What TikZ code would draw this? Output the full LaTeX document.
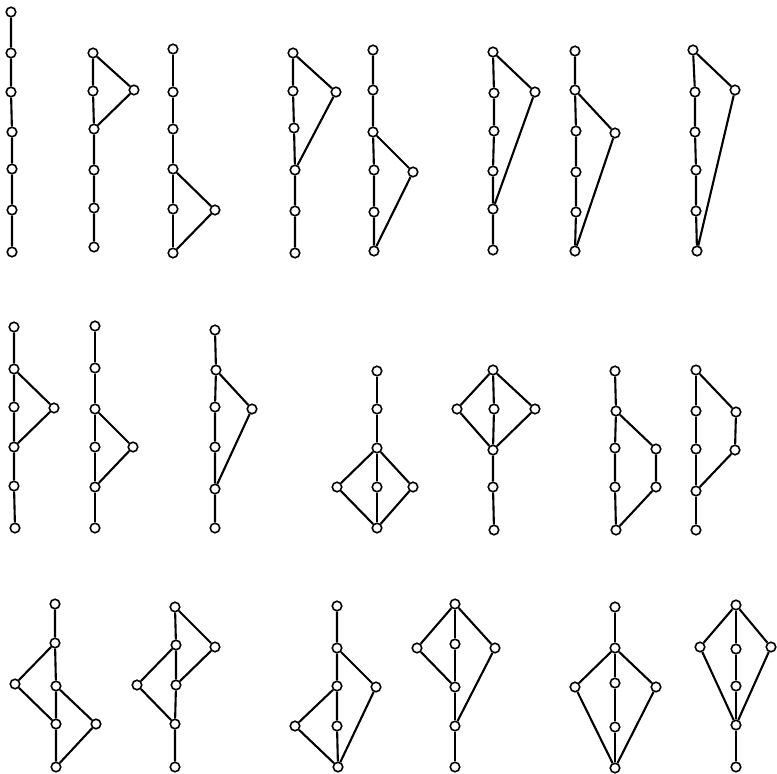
\documentclass[tikz,border=0pt]{standalone}
\usepackage{tikz}
\usetikzlibrary{positioning}

\begin{document}
\begin{tikzpicture}[
  x=1pt, y=-1pt,
  el/.style={
    circle,
    draw=black,
    line width=1.6pt,
    fill=white,
    inner sep=0pt,
    minimum size=9.5pt
  },
  rel/.style={line width=2.1pt}
]
\useasboundingbox (0,0) rectangle (777,774);

% row 1
\node[el] (a1) at (11,12) {};
\node[el] (a2) at (11,53) {};
\node[el] (a3) at (11,92) {};
\node[el] (a4) at (12,132) {};
\node[el] (a5) at (12,169) {};
\node[el] (a6) at (12,210) {};
\node[el] (a7) at (12,252) {};

\node[el] (b1) at (93,53) {};
\node[el] (b2) at (93,91) {};
\node[el] (b3) at (94,129) {};
\node[el] (b4) at (94,170) {};
\node[el] (b5) at (94,208) {};
\node[el] (b6) at (94,247) {};
\node[el] (bs) at (134,90) {};

\node[el] (c1) at (173,49) {};
\node[el] (c2) at (173,92) {};
\node[el] (c3) at (173,129) {};
\node[el] (c4) at (173,169) {};
\node[el] (c5) at (173,209) {};
\node[el] (c6) at (173,253) {};
\node[el] (cs) at (215,210) {};

\node[el] (d1) at (293,53) {};
\node[el] (d2) at (293,91) {};
\node[el] (d3) at (294,128) {};
\node[el] (d4) at (295,170) {};
\node[el] (d5) at (295,211) {};
\node[el] (d6) at (295,253) {};
\node[el] (ds) at (336,92) {};

\node[el] (e1) at (373,50) {};
\node[el] (e2) at (373,90) {};
\node[el] (e3) at (373,132) {};
\node[el] (e4) at (374,170) {};
\node[el] (e5) at (374,212) {};
\node[el] (e6) at (374,251) {};
\node[el] (es) at (413,172) {};

\node[el] (f1) at (493,52) {};
\node[el] (f2) at (494,93) {};
\node[el] (f3) at (494,131) {};
\node[el] (f4) at (493,171) {};
\node[el] (f5) at (493,209) {};
\node[el] (f6) at (493,250) {};
\node[el] (fs) at (535,92) {};

\node[el] (g1) at (575,51) {};
\node[el] (g2) at (575,90) {};
\node[el] (g3) at (576,131) {};
\node[el] (g4) at (576,172) {};
\node[el] (g5) at (576,212) {};
\node[el] (g6) at (575,251) {};
\node[el] (gs) at (615,133) {};

\node[el] (h1) at (693,50) {};
\node[el] (h2) at (695,92) {};
\node[el] (h3) at (695,132) {};
\node[el] (h4) at (696,170) {};
\node[el] (h5) at (696,211) {};
\node[el] (h6) at (697,251) {};
\node[el] (hs) at (735,90) {};

% row 2
\node[el] (i1) at (14,327) {};
\node[el] (i2) at (14,369) {};
\node[el] (i3) at (14,407) {};
\node[el] (i4) at (14,447) {};
\node[el] (i5) at (14,486) {};
\node[el] (i6) at (15,528) {};
\node[el] (is) at (54,408) {};

\node[el] (j1) at (95,326) {};
\node[el] (j2) at (95,368) {};
\node[el] (j3) at (95,409) {};
\node[el] (j4) at (95,447) {};
\node[el] (j5) at (95,487) {};
\node[el] (j6) at (95,528) {};
\node[el] (js) at (133,447) {};

\node[el] (k1) at (215,330) {};
\node[el] (k2) at (216,370) {};
\node[el] (k3) at (215,407) {};
\node[el] (k4) at (215,447) {};
\node[el] (k5) at (215,489) {};
\node[el] (k6) at (215,528) {};
\node[el] (ks) at (252,409) {};

\node[el] (l1) at (377,371) {};
\node[el] (l2) at (377,409) {};
\node[el] (l3) at (377,448) {};
\node[el] (l4) at (377,487) {};
\node[el] (l5) at (377,528) {};
\node[el] (ll) at (337,487) {};
\node[el] (lr) at (413,487) {};

\node[el] (m1) at (493,370) {};
\node[el] (m2) at (494,409) {};
\node[el] (m3) at (493,450) {};
\node[el] (m4) at (493,487) {};
\node[el] (m5) at (494,530) {};
\node[el] (ml) at (457,409) {};
\node[el] (mr) at (535,409) {};

\node[el] (n1) at (615,371) {};
\node[el] (n2) at (616,411) {};
\node[el] (n3) at (615,448) {};
\node[el] (n4) at (615,487) {};
\node[el] (n5) at (616,530) {};
\node[el] (nr1) at (656,449) {};
\node[el] (nr2) at (656,487) {};

\node[el] (o1) at (696,370) {};
\node[el] (o2) at (696,411) {};
\node[el] (o3) at (696,449) {};
\node[el] (o4) at (696,491) {};
\node[el] (o5) at (696,530) {};
\node[el] (or1) at (736,412) {};
\node[el] (or2) at (735,450) {};

% row 3
\node[el] (p1) at (55,604) {};
\node[el] (p2) at (55,643) {};
\node[el] (p3) at (56,686) {};
\node[el] (p4) at (56,724) {};
\node[el] (p5) at (56,767) {};
\node[el] (pl) at (15,684) {};
\node[el] (pr) at (96,724) {};

\node[el] (q1) at (175,607) {};
\node[el] (q2) at (176,645) {};
\node[el] (q3) at (176,685) {};
\node[el] (q4) at (175,724) {};
\node[el] (q5) at (175,767) {};
\node[el] (ql) at (137,685) {};
\node[el] (qr) at (215,647) {};

\node[el] (r1) at (337,606) {};
\node[el] (r2) at (337,648) {};
\node[el] (r3) at (337,686) {};
\node[el] (r4) at (337,726) {};
\node[el] (r5) at (338,767) {};
\node[el] (rl) at (295,726) {};
\node[el] (rr) at (376,687) {};

\node[el] (s1) at (455,604) {};
\node[el] (s2) at (455,644) {};
\node[el] (s3) at (455,687) {};
\node[el] (s4) at (455,726) {};
\node[el] (s5) at (455,767) {};
\node[el] (sl) at (417,648) {};
\node[el] (sr) at (495,648) {};

\node[el] (t1) at (615,607) {};
\node[el] (t2) at (615,648) {};
\node[el] (t3) at (615,683) {};
\node[el] (t4) at (615,727) {};
\node[el] (t5) at (615,768) {};
\node[el] (tl) at (575,687) {};
\node[el] (tr) at (656,687) {};

\node[el] (u1) at (736,605) {};
\node[el] (u2) at (736,649) {};
\node[el] (u3) at (736,686) {};
\node[el] (u4) at (736,725) {};
\node[el] (u5) at (736,767) {};
\node[el] (ul) at (700,647) {};
\node[el] (ur) at (771,647) {};

% edges
\draw[rel] (a1) -- (a2) -- (a3) -- (a4) -- (a5) -- (a6) -- (a7);
\draw[rel] (b1) -- (b2) -- (b3) -- (b4) -- (b5) -- (b6);
\draw[rel] (b1) -- (bs) -- (b3);
\draw[rel] (c1) -- (c2) -- (c3) -- (c4) -- (c5) -- (c6);
\draw[rel] (c4) -- (cs) -- (c6);
\draw[rel] (d1) -- (d2) -- (d3) -- (d4) -- (d5) -- (d6);
\draw[rel] (d1) -- (ds) -- (d4);
\draw[rel] (e1) -- (e2) -- (e3) -- (e4) -- (e5) -- (e6);
\draw[rel] (e3) -- (es) -- (e6);
\draw[rel] (f1) -- (f2) -- (f3) -- (f4) -- (f5) -- (f6);
\draw[rel] (f1) -- (fs) -- (f5);
\draw[rel] (g1) -- (g2) -- (g3) -- (g4) -- (g5) -- (g6);
\draw[rel] (g2) -- (gs) -- (g6);
\draw[rel] (h1) -- (h2) -- (h3) -- (h4) -- (h5) -- (h6);
\draw[rel] (h1) -- (hs) -- (h6);

\draw[rel] (i1) -- (i2) -- (i3) -- (i4) -- (i5) -- (i6);
\draw[rel] (i2) -- (is) -- (i4);
\draw[rel] (j1) -- (j2) -- (j3) -- (j4) -- (j5) -- (j6);
\draw[rel] (j3) -- (js) -- (j5);
\draw[rel] (k1) -- (k2) -- (k3) -- (k4) -- (k5) -- (k6);
\draw[rel] (k2) -- (ks) -- (k5);
\draw[rel] (l1) -- (l2) -- (l3) -- (l4) -- (l5);
\draw[rel] (l3) -- (ll) -- (l5);
\draw[rel] (l3) -- (lr) -- (l5);
\draw[rel] (m1) -- (m2) -- (m3) -- (m4) -- (m5);
\draw[rel] (m1) -- (ml) -- (m3);
\draw[rel] (m1) -- (mr) -- (m3);
\draw[rel] (n1) -- (n2) -- (n3) -- (n4) -- (n5);
\draw[rel] (n2) -- (nr1) -- (nr2) -- (n5);
\draw[rel] (o1) -- (o2) -- (o3) -- (o4) -- (o5);
\draw[rel] (o1) -- (or1) -- (or2) -- (o4);

\draw[rel] (p1) -- (p2) -- (p3) -- (p4) -- (p5);
\draw[rel] (p2) -- (pl) -- (p4);
\draw[rel] (p3) -- (pr) -- (p5);
\draw[rel] (q1) -- (q2) -- (q3) -- (q4) -- (q5);
\draw[rel] (q1) -- (qr) -- (q3);
\draw[rel] (q2) -- (ql) -- (q4);
\draw[rel] (r1) -- (r2) -- (r3) -- (r4) -- (r5);
\draw[rel] (r2) -- (rr) -- (r5);
\draw[rel] (r3) -- (rl) -- (r5);
\draw[rel] (s1) -- (s2) -- (s3) -- (s4) -- (s5);
\draw[rel] (s1) -- (sl) -- (s3);
\draw[rel] (s1) -- (sr) -- (s4);
\draw[rel] (t1) -- (t2) -- (t3) -- (t4) -- (t5);
\draw[rel] (t2) -- (tl) -- (t5);
\draw[rel] (t2) -- (tr) -- (t5);
\draw[rel] (u1) -- (u2) -- (u3) -- (u4) -- (u5);
\draw[rel] (u1) -- (ul) -- (u4);
\draw[rel] (u1) -- (ur) -- (u4);

\end{tikzpicture}
\end{document}
